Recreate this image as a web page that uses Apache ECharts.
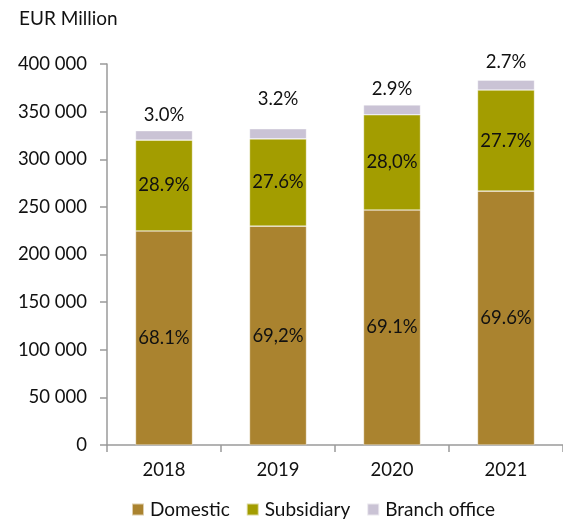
<!DOCTYPE html>
<html>
<head>
<meta charset="utf-8">
<script src="https://cdn.jsdelivr.net/npm/echarts@6/dist/echarts.min.js"></script>
<style>
  html, body { margin: 0; padding: 0; background: #fff; }
  #chart { width: 563px; height: 521px; }
</style>
</head>
<body>
<div id="chart"></div>
<script>
// Years on the category axis
const years = ['2018', '2019', '2020', '2021'];
// Total volume per year, EUR Million
const totals = [330000, 332000, 357000, 383000];
// Share labels per segment, as printed
const domesticShare = ['68.1%', '69,2%', '69.1%', '69.6%'];
const subsidiaryShare = ['28.9%', '27.6%', '28,0%', '27.7%'];
const branchShare = ['3.0%', '3.2%', '2.9%', '2.7%'];
// Value axis tick range
const yMin = 0, yMax = 400000, yStep = 50000;

const pct = s => parseFloat(s.replace(',', '.').replace('%', '')) / 100;
const seg = shares => shares.map((s, i) => totals[i] * pct(s));

const FONT = 'Lato, "Open Sans", sans-serif';
const FS = 18.5;
const colors = { domestic: '#AA832F', subsidiary: '#A39D00', branch: '#CAC3D5' };
// extra lift (px) for the labels sitting above the bars
const topLabelGap = [6, 20, 6, 9];

function series(name, shares, color, pos) {
  const vals = seg(shares);
  return {
    name, type: 'bar', stack: 'total', barWidth: '50%',
    data: vals.map((v, i) => pos === 'top'
      ? { value: v, label: { distance: topLabelGap[i] } }
      : v),
    itemStyle: { color, borderColor: 'rgba(255,255,255,0.6)', borderWidth: 0.6 },
    label: {
      show: true, position: pos, distance: 6,
      fontFamily: FONT, fontSize: FS, color: '#111',
      formatter: p => shares[p.dataIndex]
    }
  };
}

const chart = echarts.init(document.getElementById('chart'), null, { renderer: 'canvas' });
chart.setOption({
  animation: false,
  textStyle: { fontFamily: FONT },
  title: {
    text: 'EUR Million', left: 14, top: 4,
    textStyle: { fontFamily: FONT, fontSize: 19, fontWeight: 'normal', color: '#111' }
  },
  grid: { left: 107, top: 64, right: -3, bottom: 76, containLabel: false },
  legend: {
    top: 500, left: 131, itemWidth: 12, itemHeight: 12, itemGap: 16,
    icon: 'rect',
    textStyle: { fontFamily: FONT, fontSize: 19, color: '#111', padding: [0, 0, 0, 1] },
    padding: 0,
    data: ['Domestic', 'Subsidiary', 'Branch office']
  },
  xAxis: {
    type: 'category', data: years,
    axisLine: { lineStyle: { color: '#9a9a9a', width: 1.5 } },
    axisTick: { show: true, length: 7, lineStyle: { color: '#9a9a9a', width: 1.5 } },
    axisLabel: { fontFamily: FONT, fontSize: FS, color: '#111', margin: 16 }
  },
  yAxis: {
    type: 'value', min: yMin, max: yMax, interval: yStep,
    splitLine: { show: false },
    axisLine: { show: true, lineStyle: { color: '#9a9a9a', width: 1.5 } },
    axisTick: { show: true, length: 7, lineStyle: { color: '#9a9a9a', width: 1.5 } },
    axisLabel: {
      fontFamily: FONT, fontSize: FS, color: '#111', margin: 20,
      formatter: v => String(v).replace(/\B(?=(\d{3})+(?!\d))/g, ' ')
    }
  },
  series: [
    series('Domestic', domesticShare, colors.domestic, 'inside'),
    series('Subsidiary', subsidiaryShare, colors.subsidiary, 'inside'),
    series('Branch office', branchShare, colors.branch, 'top')
  ]
});
</script>
</body>
</html>
